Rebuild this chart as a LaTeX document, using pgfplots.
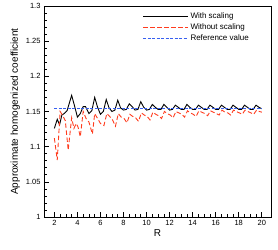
\documentclass[border=0pt]{standalone}
\usepackage{fontspec}
\setmainfont{Liberation Sans}
\usepackage{pgfplots}
\pgfplotsset{compat=1.18}
\definecolor{myred}{RGB}{255,60,30}
\definecolor{myblue}{RGB}{55,95,240}
\begin{document}
\begin{tikzpicture}
\begin{axis}[
  scale only axis, width=227pt, height=211pt,
  xmin=1.1, xmax=20.8, ymin=1, ymax=1.3,
  xtick={2,4,...,20}, ytick={1,1.05,...,1.3},
  yticklabels={1,1.05,1.1,1.15,1.2,1.25,1.3},
  minor x tick num=3, minor y tick num=4,
  tick align=inside, xtick pos=bottom, ytick pos=left,
  major tick length=5pt, minor tick length=2.5pt,
  tick style={black, line width=0.6pt},
  axis line style={line width=0.8pt},
  /pgf/number format/assume math mode=true,
  tick label style={font=\fontsize{7.5}{9}\selectfont},
  xlabel={R}, ylabel={Approximate homogenized coefficient},
  label style={font=\fontsize{10}{12}\selectfont},
  xlabel style={yshift=3pt},
  ylabel style={yshift=-1pt},
  legend style={draw=none, fill=none, at={(0.925,0.99)}, anchor=north east,
    font=\fontsize{8}{9.5}\selectfont, row sep=0pt},
  legend cell align=left,
  legend image code/.code={\draw[#1] (0cm,0cm) -- (1.58cm,0cm);},
]
\addplot[black, line width=0.9pt] coordinates {
(2.0,1.126)(2.25,1.139)(2.45,1.131)(2.65,1.145)(2.85,1.147)(3.1,1.151)(3.5,1.173)(3.75,1.158)(4.0,1.142)(4.25,1.147)(4.5,1.157)(4.7,1.157)(5.0,1.147)(5.25,1.151)(5.5,1.170)(5.75,1.156)(6.0,1.146)(6.25,1.150)(6.5,1.167)(6.75,1.155)(7.0,1.150)(7.25,1.152)(7.5,1.166)(7.75,1.155)(8.0,1.152)(8.25,1.153)(8.5,1.161)(8.75,1.157)(9.0,1.152)(9.25,1.153)(9.5,1.164)(9.75,1.156)(10.0,1.152)(10.25,1.153)(10.5,1.160)(10.75,1.156)(11,1.153)(11.25,1.153)(11.5,1.160)(11.75,1.156)(12,1.152)(12.25,1.153)(12.5,1.159)(12.75,1.156)(13,1.153)(13.25,1.153)(13.5,1.160)(13.75,1.156)(14,1.153)(14.25,1.153)(14.5,1.159)(14.75,1.156)(15,1.153)(15.25,1.153)(15.5,1.159)(15.75,1.156)(16,1.153)(16.25,1.153)(16.5,1.159)(16.75,1.156)(17,1.153)(17.25,1.153)(17.5,1.159)(17.75,1.156)(18,1.153)(18.25,1.153)(18.5,1.159)(18.75,1.156)(19,1.153)(19.25,1.153)(19.5,1.159)(19.75,1.156)(20,1.154)
};
\addlegendentry{With scaling}
\addplot[myred, line width=0.9pt, dash pattern=on 4.5pt off 2.5pt] coordinates {
(2.0,1.112)(2.25,1.081)(2.5,1.150)(2.7,1.145)(2.95,1.137)(3.2,1.095)(3.5,1.141)(3.7,1.126)(3.9,1.133)(4.05,1.128)(4.25,1.114)(4.5,1.150)(4.75,1.140)(5.0,1.135)(5.3,1.118)(5.5,1.147)(5.75,1.140)(6.0,1.133)(6.3,1.130)(6.55,1.147)(6.8,1.143)(7.05,1.138)(7.3,1.129)(7.55,1.147)(7.8,1.142)(8.05,1.140)(8.3,1.134)(8.55,1.146)(8.8,1.143)(9.05,1.141)(9.3,1.136)(9.55,1.148)(9.8,1.145)(10.05,1.143)(10.3,1.138)(10.55,1.149)(10.8,1.146)(11.05,1.144)(11.3,1.140)(11.55,1.150)(11.8,1.147)(12.05,1.145)(12.3,1.141)(12.55,1.150)(12.8,1.148)(13.05,1.146)(13.3,1.142)(13.55,1.151)(13.8,1.148)(14.05,1.146)(14.3,1.143)(14.55,1.151)(14.8,1.149)(15.05,1.147)(15.3,1.144)(15.55,1.151)(15.8,1.149)(16.05,1.147)(16.3,1.145)(16.55,1.152)(16.8,1.149)(17.05,1.148)(17.3,1.145)(17.55,1.152)(17.8,1.150)(18.05,1.148)(18.3,1.146)(18.55,1.152)(18.8,1.150)(19.05,1.148)(19.3,1.146)(19.55,1.152)(19.8,1.150)(20,1.149)
};
\addlegendentry{Without scaling}
\addplot[myblue, line width=0.9pt, dash pattern=on 3pt off 1.5pt] coordinates {(2,1.1547)(20,1.1547)};
\addlegendentry{Reference value}
\end{axis}
\path ([shift={(-44pt,-33pt)}]current axis.south west) rectangle ([shift={(7pt,6pt)}]current axis.north east);
\end{tikzpicture}
\end{document}
